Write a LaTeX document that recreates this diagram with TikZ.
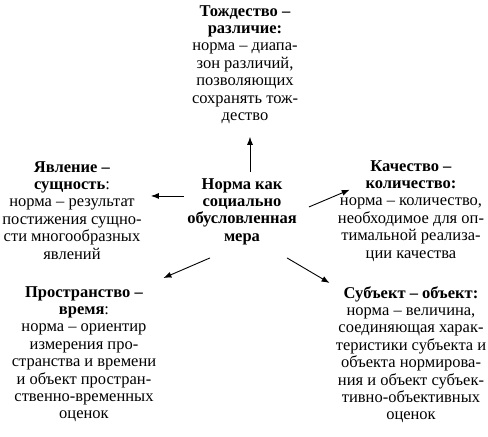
\documentclass[tikz,border=0pt]{standalone}
\usepackage{fontspec}
\setmainfont{Liberation Serif}
\usetikzlibrary{arrows.meta}
\begin{document}
\begin{tikzpicture}[x=1pt,y=-1pt,
  blk/.style={align=center,inner sep=0pt,anchor=north,font=\fontsize{16.5}{17.4}\selectfont},
  arr/.style={-{Latex[length=8pt,width=6pt]},line width=0.9pt}]
\useasboundingbox (0,0) rectangle (488,437);
\node[blk] (t) at (245,5) {\textbf{Тождество –}\\\textbf{различие:}\\норма – диапа-\\зон различий,\\позволяющих\\сохранять тож-\\дество};
\node[blk] (c) at (242,178) {\textbf{Норма как}\\\textbf{социально}\\\textbf{обусловленная}\\\textbf{мера}};
\node[blk] (l) at (72,161) {\textbf{Явление –}\\\textbf{сущность}:\\норма – результат\\постижения сущно-\\сти многообразных\\явлений};
\node[blk] (r) at (411,160) {\textbf{Качество –}\\\textbf{количество:}\\норма – количество,\\необходимое для оп-\\тимальной реализа-\\ции качества};
\node[blk] (bl) at (84,286) {\textbf{Пространство –}\\\textbf{время}:\\норма – ориентир\\измерения про-\\странства и времени\\и объект простран-\\ственно-временных\\оценок};
\node[blk] (br) at (411,286) {\textbf{Субъект – объект:}\\норма – величина,\\соединяющая харак-\\теристики субъекта и\\объекта нормирова-\\ния и объект субъек-\\тивно-объективных\\оценок};
\draw[arr] ([shift={(8,-6)}]c.north) -- ([shift={(5,13)}]t.south);
\draw[arr] ([shift={(-3,-15.5)}]c.west) coordinate (la) -- ([xshift=9]la -| l.east);
\draw[arr] ([shift={(12,-4.5)}]c.east) -- ([shift={(12,-21)}]r.west);
\draw[arr] ([shift={(-32,13)}]c.south) -- ([shift={(7,-8)}]bl.north east);
\draw[arr] ([shift={(45,13)}]c.south) -- ([shift={(-6,-3)}]br.north west);
\end{tikzpicture}
\end{document}
